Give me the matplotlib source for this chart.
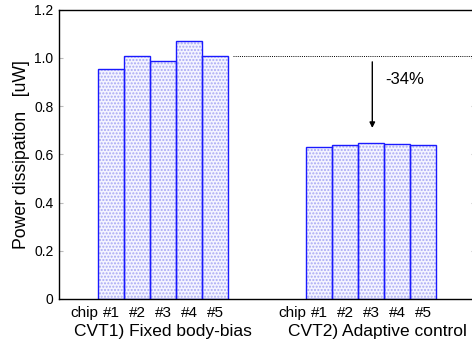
import matplotlib
matplotlib.use('Agg')
import matplotlib.pyplot as plt

plt.rcParams['font.family'] = ['Liberation Sans', 'DejaVu Sans']

# chip power (uW)
chips = ['#1', '#2', '#3', '#4', '#5']
fixed_bias = [0.955, 1.006, 0.985, 1.068, 1.009]
adaptive = [0.631, 0.637, 0.647, 0.644, 0.640]
yticks = [0, 0.2, 0.4, 0.6, 0.8, 1.0, 1.2]
ytick_labels = ['0', '0.2', '0.4', '0.6', '0.8', '1.0', '1.2']
group_labels = ['CVT1) Fixed body-bias', 'CVT2) Adaptive control']
reduction = '-34%'

x1 = [2, 3, 4, 5, 6]
x2 = [10, 11, 12, 13, 14]

fig = plt.figure(figsize=(4.72, 3.45), dpi=100)
ax = fig.add_axes([59 / 472, 46 / 345, 416 / 472, 289.5 / 345])

for xs, vals in [(x1, fixed_bias), (x2, adaptive)]:
    # dotted fill first, then the blue outline on top
    ax.bar(xs, vals, width=1.0, color='#f4f4ff', edgecolor='#a8a8f4',
           hatch='.....', linewidth=0)
    ax.bar(xs, vals, width=1.0, color='none', edgecolor='#1a1aff',
           linewidth=1.0)

ax.plot([6.7, 16], [1.007, 1.007], color='black', linestyle=(0, (1, 1.2)),
        linewidth=0.7)
ax.annotate('', xy=(12.05, 0.709), xytext=(12.05, 0.983),
            arrowprops=dict(arrowstyle='-|>', color='black', lw=1.0,
                            mutation_scale=8, shrinkA=0, shrinkB=0))
ax.text(12.55, 0.91, reduction, fontsize=12, ha='left', va='center')

ax.set_xlim(0, 16)
ax.set_ylim(0, 1.2)
ax.set_yticks(yticks)
ax.set_yticklabels(ytick_labels, fontsize=10)
ax.set_xticks(x1 + x2)
ax.set_xticklabels(chips + chips, fontsize=11)
ax.tick_params(axis='x', length=0, pad=5)
ax.tick_params(axis='y', direction='in', length=3, color='#bbbbbb',
               right=True, pad=4)
for s in ax.spines.values():
    s.set_linewidth(1.0)

for xc in [x1[0] - 0.5, x2[0] - 0.5]:
    ax.annotate('chip', xy=(xc, 0), xycoords=('data', 'axes fraction'),
                xytext=(0, -5), textcoords='offset points',
                fontsize=11, ha='right', va='top')
for xc, lab in [(0.5 * (x1[0] + x1[-1]), group_labels[0]),
                (0.5 * (x2[0] + x2[-1]) + 0.25, group_labels[1])]:
    ax.annotate(lab, xy=(xc, 0), xycoords=('data', 'axes fraction'),
                xytext=(0, -18), textcoords='offset points',
                fontsize=12.5, ha='center', va='top')

ax.set_ylabel('Power dissipation   [uW]', fontsize=12.7)
ax.yaxis.set_label_coords(-0.07, 0.5)

fig.savefig('out.png', dpi=100)
